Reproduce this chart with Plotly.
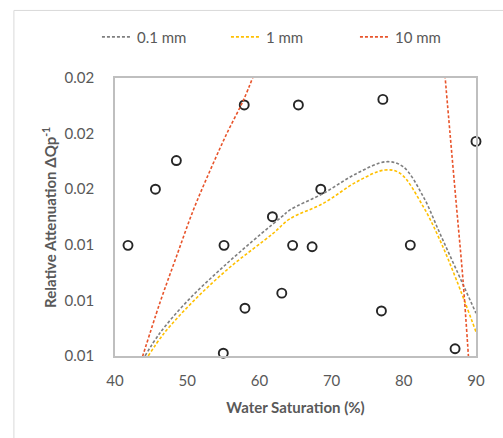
import plotly.graph_objects as go

# Measured samples: water saturation (%) vs relative attenuation
sat = [41.8, 45.6, 48.5, 55.0, 55.1, 57.9, 58.0, 61.8, 63.1, 64.6,
       65.4, 67.3, 68.5, 76.9, 77.1, 80.9, 87.1, 90.0]
atten = [0.01398, 0.0160, 0.01703, 0.0101, 0.01398, 0.01903, 0.01172, 0.01501, 0.01226, 0.01398,
         0.01903, 0.01393, 0.0160, 0.01162, 0.01923, 0.01399, 0.01026, 0.01772]

# Model curves for three grain sizes
sat_01 = [44.16, 46.2, 50.15, 55.0, 60.3, 63.1, 64.2, 68.85, 73.5, 77.6, 79.9, 82.7, 85.0, 87.3, 90.0]
att_01 = [0.0100, 0.01082, 0.01201, 0.01321, 0.01441, 0.01501, 0.01525, 0.01585, 0.01657, 0.01699,
          0.01681, 0.01573, 0.01441, 0.01309, 0.01154]

sat_1 = [44.6, 46.8, 51.0, 56.0, 61.9, 64.2, 68.85, 73.5, 77.4, 79.5, 82.7, 85.0, 87.3, 90.0]
att_1 = [0.0100, 0.01082, 0.01201, 0.01321, 0.01441, 0.01493, 0.01549, 0.01627, 0.01669, 0.01657,
         0.01537, 0.01417, 0.01273, 0.01087]

# 10 mm curve leaves the top of the axis range; its two visible branches are separated by a gap
sat_10 = [43.6, 46.2, 48.5, 50.85, 53.2, 55.5, 57.8, 59.2, None, 85.7, 86.4, 87.3, 88.2, 89.0]
att_10 = [0.0098, 0.0119, 0.01357, 0.01525, 0.01669, 0.01801, 0.01921, 0.0201, None, 0.0201, 0.01801,
          0.01537, 0.01273, 0.0098]

y_ticks = [0.010, 0.012, 0.014, 0.016, 0.018, 0.020]
x_ticks = [40, 50, 60, 70, 80, 90]

TEXT = "#595959"
FONT = "Lato"

fig = go.Figure()

fig.add_trace(go.Scatter(
    x=sat, y=atten, mode="markers", showlegend=False,
    marker=dict(symbol="circle-open", size=9, color="#262626", line=dict(width=1.9, color="#262626")),
    cliponaxis=False,
))

for xs, ys, name, color in [
    (sat_01, att_01, "0.1 mm", "#7F7F7F"),
    (sat_1, att_1, "1 mm", "#FFC000"),
    (sat_10, att_10, "10 mm", "#E8542B"),
]:
    fig.add_trace(go.Scatter(
        x=xs, y=ys, mode="lines", name=name, connectgaps=False,
        line=dict(color=color, width=1.6, dash="3px,2px", shape="spline", smoothing=1.0),
    ))

fig.update_layout(
    width=503, height=438,
    margin=dict(l=115, r=27, t=78, b=82),
    paper_bgcolor="white", plot_bgcolor="white",
    font=dict(family=FONT, size=15, color=TEXT),
    showlegend=True,
    legend=dict(orientation="h", x=-0.05, xanchor="left", y=1.147, yanchor="middle",
                font=dict(size=15, color=TEXT), entrywidth=84, entrywidthmode="pixels",
                bgcolor="rgba(0,0,0,0)"),
    shapes=[dict(type="rect", xref="paper", yref="paper",
                 x0=-0.28, x1=1.3, y0=-0.5, y1=1.243,
                 line=dict(color="#D9D9D9", width=1), layer="below")],
    annotations=[dict(text="<b>Relative Attenuation ΔQp<sup>-1</sup></b>", textangle=-90,
                      xref="paper", yref="paper", x=-0.183, y=0.5,
                      xanchor="center", yanchor="middle", showarrow=False,
                      font=dict(size=15, color=TEXT))],
)

fig.update_xaxes(
    range=[40, 90], tickvals=x_ticks, showgrid=False, zeroline=False,
    showline=True, mirror=True, linecolor="#BFBFBF", linewidth=1.5,
    ticks="", ticklabelstandoff=10, tickfont=dict(size=15, color=TEXT),
    title=dict(text="<b>Water Saturation (%)</b>", font=dict(size=15, color=TEXT), standoff=15),
)
fig.update_yaxes(
    range=[0.010, 0.020], tickvals=y_ticks, tickformat=".2f", showgrid=False, zeroline=False,
    showline=True, mirror=True, linecolor="#BFBFBF", linewidth=1.5,
    ticks="", ticklabelstandoff=16, tickfont=dict(size=15, color=TEXT),
)

fig.write_html("out.html")
